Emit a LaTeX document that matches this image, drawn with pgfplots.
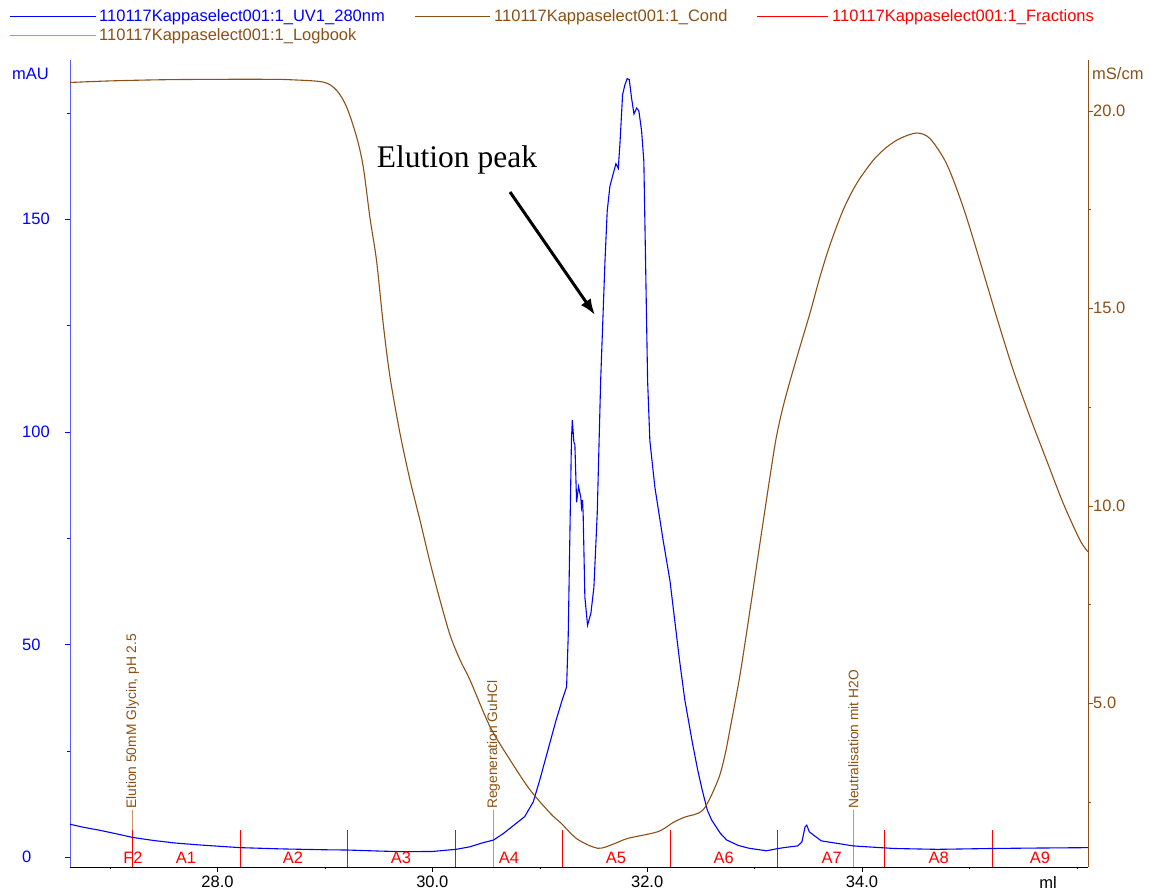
\documentclass[border=0pt]{standalone}
\usepackage{pgfplots}
\pgfplotsset{compat=1.18}
\usepackage{pgfplotstable}
\usepackage{fontspec}
\setmainfont{Liberation Sans}
\newfontfamily\timesfont{Liberation Serif}
\usetikzlibrary{arrows.meta}
\definecolor{cond}{RGB}{140,80,20}
\definecolor{logb}{RGB}{195,150,105}
\definecolor{fracred}{RGB}{255,0,0}
\definecolor{uvblue}{RGB}{0,0,255}
\definecolor{axblue}{RGB}{90,90,255}
\newcommand\tf{\fontsize{16.5}{19}\selectfont}
\newcommand\lf{\fontsize{13.8}{16}\selectfont}

\pgfplotstableread{
x y
26.627 7.7
26.75 7.0
26.90 6.3
27.05 5.5
27.21 4.6
27.40 3.9
27.60 3.3
27.85 2.8
28.21 2.2
28.60 1.9
29.00 1.7
29.21 1.64
29.50 1.4
29.72 1.25
30.00 1.3
30.22 1.8
30.35 2.4
30.45 3.2
30.57 4.0
30.66 5.5
30.75 7.3
30.86 9.5
30.94 13.0
31.00 18.1
31.08 25.5
31.15 32
31.21 37
31.25 40
31.265 52
31.28 75
31.295 98
31.303 102.7
31.318 97.5
31.327 97
31.343 83.4
31.361 87.1
31.382 84.6
31.389 82.2
31.398 83.9
31.404 80.7
31.420 61.1
31.445 54.5
31.476 57.3
31.504 63.4
31.535 80.7
31.567 112
31.607 140
31.628 151.9
31.653 157.7
31.678 160.1
31.709 163
31.731 161.9
31.746 167.5
31.771 179.2
31.793 181.6
31.814 183
31.833 182.8
31.855 178.4
31.877 174.7
31.902 176.1
31.923 175.4
31.948 170.7
31.969 163.6
31.985 140.1
32.004 112
32.025 97.9
32.072 86.9
32.149 74.4
32.212 65
32.25 57
32.30 46.5
32.35 37
32.42 27
32.47 20.5
32.51 16
32.56 11
32.60 8.7
32.68 5.6
32.74 4.0
32.85 2.7
32.95 2.05
33.11 1.46
33.22 2.0
33.30 2.3
33.40 2.6
33.44 3.5
33.47 7.1
33.485 7.5
33.51 5.9
33.62 3.8
33.92 2.6
34.30 2.0
34.70 1.8
35.20 2.0
35.60 2.1
36.104 2.2
}\uvdata

\pgfplotstableread{
x y
26.627 20.72
27.0 20.76
27.5 20.79
28.0 20.80
28.5 20.80
28.675 20.79
28.985 20.73
29.109 20.52
29.202 20.10
29.295 19.34
29.357 18.58
29.419 17.30
29.481 16.20
29.543 14.60
29.606 13.26
29.699 11.83
29.792 10.65
29.885 9.63
29.978 8.57
30.072 7.60
30.165 6.72
30.258 6.09
30.351 5.58
30.537 4.40
30.723 3.56
30.909 2.80
31.10 2.20
31.20 1.95
31.35 1.55
31.54 1.32
31.68 1.42
31.82 1.57
32.10 1.74
32.24 1.97
32.35 2.11
32.52 2.29
32.66 3.05
32.724 3.68
32.77 4.32
32.864 5.71
32.957 7.35
33.050 9.05
33.143 10.73
33.20 11.70
33.26 12.45
33.329 13.15
33.422 14.02
33.515 14.87
33.608 15.79
33.701 16.60
33.826 17.50
33.950 18.16
34.104 18.75
34.229 19.08
34.353 19.30
34.508 19.44
34.632 19.30
34.787 18.66
34.942 17.56
35.097 16.20
35.253 14.78
35.408 13.43
35.563 12.25
35.718 11.15
35.873 10.06
36.028 9.13
36.104 8.83
}\conddata

\begin{document}
\begin{tikzpicture}
\useasboundingbox (0,0) rectangle (1153pt,893pt);
\begin{axis}[
  at={(70pt,26pt)}, anchor=south west, scale only axis,
  width=1018pt, height=807pt,
  xmin=26.627, xmax=36.104, ymin=-2.35, ymax=187.4,
  axis x line=bottom, axis y line=left,
  x axis line style={black,-}, y axis line style={axblue,-},
  xtick={28,30,32,34}, xticklabels={28.0,30.0,32.0,34.0},
  minor xtick={27,29,31,33,35,36},
  ytick={0,50,100,150}, yticklabels={0,50,100,150},
  minor ytick={25,75,125,175},
  tick align=outside, major tick length=5pt, minor tick length=2.5pt,
  xtick style={black}, ytick style={uvblue},
  xticklabel style={font=\tf, black, anchor=north, inner sep=0pt, yshift=-4pt},
  yticklabel style={font=\tf, uvblue, anchor=west, inner sep=0pt, xshift=-43pt},
  unbounded coords=jump,
  clip=true,
]
% fraction marks
\addplot[draw=fracred, line width=1pt] coordinates {
 (27.2088,-3) (27.2088,6.34) (27.2088,nan)
 (28.2143,-3) (28.2143,6.34) (28.2143,nan)
 (29.2104,-3) (29.2104,6.34) (29.2104,nan)
 (30.2158,-3) (30.2158,6.34) (30.2158,nan)
 (31.2119,-3) (31.2119,6.34) (31.2119,nan)
 (32.2173,-3) (32.2173,6.34) (32.2173,nan)
 (33.2134,-3) (33.2134,6.34) (33.2134,nan)
 (34.2095,-3) (34.2095,6.34) (34.2095,nan)
 (35.2149,-3) (35.2149,6.34)
};
% logbook marks
\addplot[draw=logb, line width=1pt] coordinates {
 (27.2088,6.34) (27.2088,11.0) (27.2088,nan)
 (30.5695,-3) (30.5695,11.0) (30.5695,nan)
 (33.9210,-3) (33.9210,11.0)
};
\addplot[draw=uvblue, line width=1.1pt] table[x=x,y=y] {\uvdata};
\node[font=\lf, text=cond, rotate=90, anchor=west, inner sep=0pt] at (axis cs:27.2088,11.3) {Elution 50mM Glycin, pH 2.5};
\node[font=\lf, text=cond, rotate=90, anchor=west, inner sep=0pt] at (axis cs:30.5695,11.3) {Regeneration GuHCl};
\node[font=\lf, text=cond, rotate=90, anchor=west, inner sep=0pt] at (axis cs:33.9210,11.3) {Neutralisation mit H2O};
% fraction labels
\node[font=\tf, text=fracred, inner sep=0pt] at (axis cs:27.213,-0.23) {F2};
\node[font=\tf, text=fracred, inner sep=0pt] at (axis cs:27.707,-0.23) {A1};
\node[font=\tf, text=fracred, inner sep=0pt] at (axis cs:28.703,-0.23) {A2};
\node[font=\tf, text=fracred, inner sep=0pt] at (axis cs:29.708,-0.23) {A3};
\node[font=\tf, text=fracred, inner sep=0pt] at (axis cs:30.714,-0.23) {A4};
\node[font=\tf, text=fracred, inner sep=0pt] at (axis cs:31.710,-0.23) {A5};
\node[font=\tf, text=fracred, inner sep=0pt] at (axis cs:32.713,-0.23) {A6};
\node[font=\tf, text=fracred, inner sep=0pt] at (axis cs:33.718,-0.23) {A7};
\node[font=\tf, text=fracred, inner sep=0pt] at (axis cs:34.714,-0.23) {A8};
\node[font=\tf, text=fracred, inner sep=0pt] at (axis cs:35.657,-0.23) {A9};
\end{axis}
\begin{axis}[
  at={(70pt,26pt)}, anchor=south west, scale only axis,
  width=1018pt, height=807pt,
  xmin=26.627, xmax=36.104, ymin=0.845, ymax=21.29,
  axis x line=none, axis y line=right,
  y axis line style={cond,-},
  xtick=\empty,
  ytick={5,10,15,20}, yticklabels={5.0,10.0,15.0,20.0},
  minor ytick={2.5,7.5,12.5,17.5},
  tick align=outside, major tick length=5pt, minor tick length=3pt,
  ytick style={cond},
  yticklabel style={font=\tf, text=cond, anchor=west, inner sep=0pt, xshift=0pt},
  clip=true,
]
\addplot[draw=cond, line width=1.1pt, smooth, tension=0.5] table[x=x,y=y] {\conddata};
\end{axis}
% axis unit labels
\node[font=\tf, text=uvblue, anchor=west, inner sep=0pt] at (12pt,819pt) {mAU};
\node[font=\tf, text=cond, anchor=west, inner sep=0pt] at (1092pt,819pt) {mS/cm};
\node[font=\tf, text=black, anchor=center, inner sep=0pt] at (1048pt,10pt) {ml};
% annotation
\node[font=\timesfont\fontsize{31.5}{36}\selectfont, text=black, anchor=center, inner sep=0pt] at (457pt,733pt) {Elution peak};
\draw[draw=black, line width=3pt, -{Latex[length=16pt,width=12pt]}] (510pt,701pt) -- (595pt,578pt);
% legend
\draw[draw=uvblue, line width=1pt] (10pt,876.5pt) -- (96pt,876.5pt);
\node[font=\tf, text=uvblue, anchor=west, inner sep=0pt] at (99pt,876pt) {110117Kappaselect001:1\_UV1\_280nm};
\draw[draw=cond, line width=1pt] (415pt,876.5pt) -- (490pt,876.5pt);
\node[font=\tf, text=cond, anchor=west, inner sep=0pt] at (494pt,876pt) {110117Kappaselect001:1\_Cond};
\draw[draw=fracred, line width=1pt] (757pt,876.5pt) -- (828pt,876.5pt);
\node[font=\tf, text=fracred, anchor=west, inner sep=0pt] at (832pt,876pt) {110117Kappaselect001:1\_Fractions};
\draw[draw=logb, line width=1.2pt] (10pt,857.5pt) -- (96pt,857.5pt);
\node[font=\tf, text=cond, anchor=west, inner sep=0pt] at (99pt,857pt) {110117Kappaselect001:1\_Logbook};
\end{tikzpicture}
\end{document}
